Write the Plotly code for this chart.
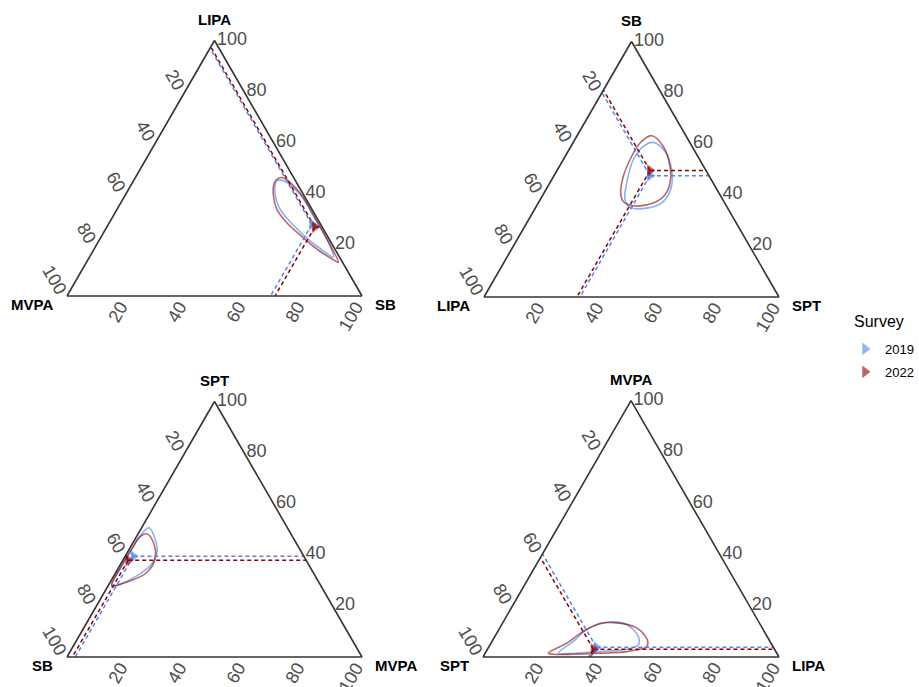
import math
import plotly.graph_objects as go

# ---------------- data ----------------
surveys = ["2019", "2022"]
colors_line = {"2019": "#4F86EC", "2022": "#8B0000"}
colors_contour = {"2019": "rgba(100,149,237,0.75)", "2022": "rgba(139,0,0,0.6)"}

# vertex titles per panel: (top, bottom-left, bottom-right)
panel_titles = [
    ("LIPA", "MVPA", "SB"),
    ("SB", "LIPA", "SPT"),
    ("SPT", "SB", "MVPA"),
    ("MVPA", "SPT", "LIPA"),
]

# mean compositions (top, left, right) per panel per survey
means_2019 = [(0.28, 0.03, 0.69), (0.475, 0.20, 0.325), (0.394, 0.578, 0.028), (0.038, 0.598, 0.364)]
means_2022 = [(0.27, 0.025, 0.705), (0.495, 0.19, 0.315), (0.379, 0.603, 0.018), (0.030, 0.612, 0.358)]

# contour outlines: top-component values and left-component values
p1_2019_top = [0.4518, 0.4059, 0.3399, 0.28, 0.22, 0.18, 0.153, 0.2, 0.3, 0.4, 0.45]
p1_2019_left = [0.063, 0.092, 0.108, 0.095, 0.07, 0.045, 0.021, 0.01, 0.008, 0.012, 0.04]
p1_2022_top = [0.4613, 0.4387, 0.3925, 0.3399, 0.2874, 0.2281, 0.1751, 0.1423, 0.1316, 0.2, 0.3, 0.4, 0.4625]
p1_2022_left = [0.053, 0.079, 0.104, 0.119, 0.112, 0.085, 0.055, 0.026, 0.0145, 0.008, 0.006, 0.008, 0.0355]

p2_2019_top = [0.6051, 0.5698, 0.4980, 0.4263, 0.3737, 0.3478, 0.3518, 0.3804, 0.4459, 0.5373, 0.5894]
p2_2019_left = [0.1236, 0.1015, 0.1147, 0.1529, 0.2053, 0.2746, 0.3292, 0.3318, 0.2933, 0.2252, 0.1653]
p2_2022_top = [0.6314, 0.5894, 0.5110, 0.4459, 0.4, 0.3675, 0.3569, 0.3737, 0.4067, 0.4718, 0.5373, 0.6027]
p2_2022_left = [0.1158, 0.0975, 0.114, 0.1465, 0.1864, 0.2424, 0.3154, 0.341, 0.3333, 0.2919, 0.2365, 0.1698]

p3_2019_top = [0.5059, 0.4625, 0.4099, 0.3569, 0.3174, 0.2846, 0.2755, 0.35, 0.42, 0.48]
p3_2019_left = [0.469, 0.4704, 0.49, 0.5401, 0.605, 0.678, 0.7107, 0.642, 0.572, 0.508]
p3_2022_top = [0.4822, 0.4494, 0.3834, 0.3308, 0.2976, 0.2806, 0.34, 0.42, 0.47]
p3_2022_left = [0.4887, 0.4828, 0.51, 0.5644, 0.6376, 0.7082, 0.654, 0.572, 0.518]

p4_2019_top = [0.0146, 0.0605, 0.1067, 0.1356, 0.1265, 0.0802, 0.0474, 0.0304, 0.0209, 0.0146]
p4_2019_left = [0.7383, 0.6647, 0.5963, 0.5143, 0.4513, 0.4352, 0.4516, 0.4993, 0.5942, 0.6876]
p4_2022_top = [0.0146, 0.0542, 0.1, 0.1304, 0.1332, 0.1134, 0.0672, 0.0407, 0.0209, 0.0146, 0.0107, 0.0107]
p4_2022_left = [0.7721, 0.6901, 0.6111, 0.5395, 0.4817, 0.424, 0.4113, 0.4266, 0.504, 0.5974, 0.6896, 0.7572]

contours = [
    {"2019": (p1_2019_top, p1_2019_left), "2022": (p1_2022_top, p1_2022_left)},
    {"2019": (p2_2019_top, p2_2019_left), "2022": (p2_2022_top, p2_2022_left)},
    {"2019": (p3_2019_top, p3_2019_left), "2022": (p3_2022_top, p3_2022_left)},
    {"2019": (p4_2019_top, p4_2019_left), "2022": (p4_2022_top, p4_2022_left)},
]
means = {"2019": means_2019, "2022": means_2022}

tick_vals = [0.8, 0.6, 0.4, 0.2, 0.0]
tick_text = ["20", "40", "60", "80", "100"]
bottom_tick_vals = [0.2, 0.4, 0.6, 0.8, 1.0]

# ---------------- figure ----------------
W, H = 919, 687
S3 = math.sqrt(3) / 2
# triangle placement in pixels: (left x, right x, base y)
tri_px = [(67, 362, 296), (484, 779, 297), (67, 362, 657), (483, 779, 657)]


def px_x(x):
    return x / W


def px_y(y):
    return 1 - y / H


TICK_FONT = dict(size=18, color="#4D4D4D", family="Liberation Sans, Arial")
TITLE_FONT = dict(size=15, color="black", family="Liberation Sans, Arial")

fig = go.Figure()
for i in range(4):
    tname = "ternary" if i == 0 else f"ternary{i+1}"
    for s in surveys:
        top, left = contours[i][s]
        tt = list(top) + [top[0]]
        ll = list(left) + [left[0]]
        rr = [1 - x - y for x, y in zip(tt, ll)]
        fig.add_trace(go.Scatterternary(
            a=tt, b=ll, c=rr, mode="lines", subplot=tname,
            line=dict(color=colors_contour[s], width=1.6, shape="spline", smoothing=1.0),
            showlegend=False, hoverinfo="skip"))
    for s in surveys:
        a0, b0, c0 = means[s][i]
        A = [a0, a0, None, a0, 1 - b0, None, a0, 0]
        B = [b0, 0, None, b0, b0, None, b0, 1 - c0]
        C = [c0, 1 - a0, None, c0, 0, None, c0, c0]
        fig.add_trace(go.Scatterternary(
            a=A, b=B, c=C, mode="lines", subplot=tname,
            line=dict(color=colors_line[s], width=1.5, dash="4px,3px"),
            showlegend=False, hoverinfo="skip", connectgaps=False))
    for s in surveys:
        a0, b0, c0 = means[s][i]
        fig.add_trace(go.Scatterternary(
            a=[a0], b=[b0], c=[c0], mode="markers", subplot=tname,
            marker=dict(symbol="triangle-right", size=11, color=colors_line[s], opacity=0.6),
            name=s, legendgroup=s, showlegend=(i == 0)))


def axis(angle, show_labels=True):
    return dict(
        title=dict(text=""),
        showgrid=False, ticks="", showline=True, linecolor="#333333", linewidth=1.6,
        tickmode="array", tickvals=tick_vals, ticktext=tick_text, tickangle=angle,
        showticklabels=show_labels, tickfont=TICK_FONT, min=0)


layout_kw = {}
annotations = []
for i in range(4):
    tname = "ternary" if i == 0 else f"ternary{i+1}"
    xl, xr, yb = tri_px[i]
    side = xr - xl
    h = side * S3
    apex_x, apex_y = (xl + xr) / 2, yb - h
    ta, tb, tc = panel_titles[i]
    layout_kw[tname] = dict(
        domain=dict(x=[px_x(xl), px_x(xr)], y=[px_y(yb), px_y(yb - h)]),
        sum=1, bgcolor="white",
        aaxis=axis(60), baxis=axis(-60, show_labels=False), caxis=axis(0))
    # vertex titles
    annotations.append(dict(text=f"<b>{ta}</b>", x=px_x(apex_x), y=px_y(apex_y - 11),
                            xanchor="center", yanchor="bottom", font=TITLE_FONT))
    annotations.append(dict(text=f"<b>{tb}</b>", x=px_x(xl - 12), y=px_y(yb + 8),
                            xanchor="right", yanchor="middle", font=TITLE_FONT))
    annotations.append(dict(text=f"<b>{tc}</b>", x=px_x(xr + 11), y=px_y(yb + 8),
                            xanchor="left", yanchor="middle", font=TITLE_FONT))
    # bottom-edge tick labels (right-vertex component)
    for v, t in zip(bottom_tick_vals, tick_text):
        px = xl + side * v
        annotations.append(dict(text=t, x=px_x(px + 7), y=px_y(yb + 1),
                                xanchor="right", yanchor="top", textangle=-60,
                                font=TICK_FONT, borderpad=0))

# legend heading
annotations.append(dict(text="Survey", x=px_x(852), y=px_y(321), xanchor="left", yanchor="middle",
                        font=dict(size=16, color="black", family="Liberation Sans, Arial")))

fig.update_layout(
    width=W, height=H, paper_bgcolor="white", plot_bgcolor="white",
    margin=dict(l=0, r=0, t=0, b=0, autoexpand=False),
    font=dict(family="Liberation Sans, Arial"),
    legend=dict(font=dict(size=13, color="black"), tracegroupgap=3,
                x=px_x(845), y=px_y(334), xanchor="left", yanchor="top",
                bgcolor="rgba(0,0,0,0)"),
    annotations=[dict(a, xref="paper", yref="paper", showarrow=False) for a in annotations],
    **layout_kw)

fig.write_html("out.html",
               config={"displayModeBar": False},
               post_script="document.body.style.margin='0';document.body.style.overflow='hidden';")
